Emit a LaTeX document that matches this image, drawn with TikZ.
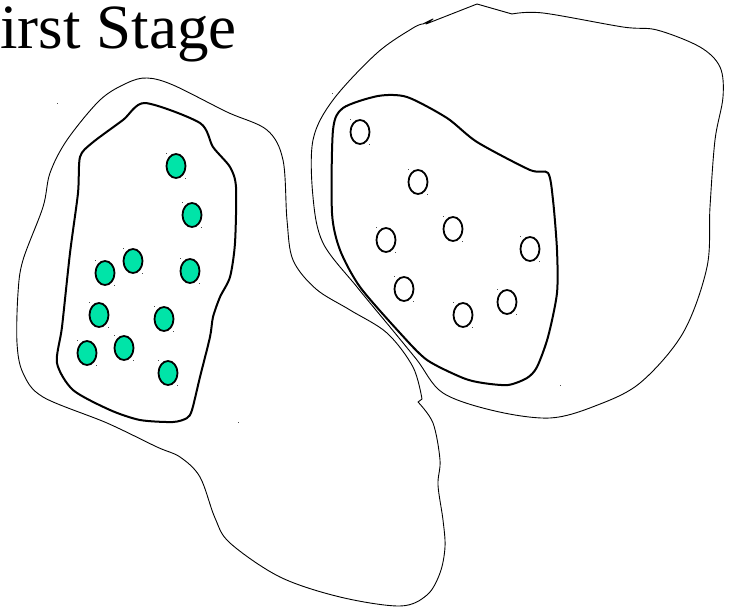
\documentclass[tikz,border=0pt]{standalone}
\usepackage{fontspec}
\setmainfont{Liberation Serif}
\usetikzlibrary{shapes.geometric}
\definecolor{mint}{RGB}{0,228,168}

\begin{document}
\begin{tikzpicture}[x=1pt, y=-1pt,
    G/.style={ellipse, draw=black, fill=mint, line width=1.8pt,
              minimum width=19pt, minimum height=24pt, inner sep=0pt},
    E/.style={G, fill=white},
    rim/.style={draw=black, line width=2pt, line join=round},
    hull/.style={draw=black, line width=0.9pt, line join=round},
    ttl/.style={font=\fontsize{63}{70}\selectfont, inner sep=0pt},
    dot/.style={fill=black!70}]
  \useasboundingbox (0,0) rectangle (729,608);
  \clip (0,0) rectangle (729,608);

  % ---------- title --------------------------------------------------------
  \node[ttl, anchor=base west] (title) at (-35,48) {First Stage};

  % ---------- thin outer hulls ---------------------------------------------
  \draw[hull] plot[smooth, tension=0.55] coordinates {
      (418,402) (433,423) (440,460) (438,485) (443,520) (445,547) (440,573)
      (427,595) (400,606) (340,597) (280,577) (230,543) (215,518) (200,477)
      (180,457) (157,447) (107,423) (43,397) (23,373) (17,343) (18,293)
      (23,260) (43,207) (50,173) (67,140) (100,100) (127,83) (147,78)
      (173,85) (227,112) (267,130) (283,160) (287,220) (293,260) (316,289)
      (350,310) (387,333) (413,367) (422,399)} -- cycle;
  \draw[hull] plot[smooth, tension=0.55] coordinates {
      (512,14) (543,13) (623,27) (657,30) (700,47) (720,67) (723,97)
      (715,140) (710,207) (707,267) (683,333) (640,383) (595,406) (550,418)
      (495,411) (443,393) (417,360) (390,327) (357,287) (323,243) (313,197)
      (313,140) (333,100) (377,53) (413,28) (423,24)}
      -- (433,19) -- (426,24) -- (477,4) -- cycle;

  % ---------- thick inner rims ---------------------------------------------
  \draw[rim] plot[smooth cycle, tension=0.45] coordinates {
      (145,103) (200,123) (213,147) (230,167) (236,187) (235,243) (230,277)
      (220,297) (213,317) (210,337) (200,377) (192,410) (187,418) (173,422)
      (140,420) (110,410) (73,390) (57,363) (62,327) (70,253) (78,193)
      (80,157) (92,143) (123,120)};
  \draw[rim] plot[smooth cycle, tension=0.45] coordinates {
      (378,96) (407,97) (447,118) (477,142) (530,170) (548,173) (553,200)
      (557,250) (557,293) (548,337) (537,367) (527,378) (508,385) (483,383)
      (463,378) (427,360) (400,333) (360,287) (340,250) (332,213) (333,130)
      (343,108)};

  % ---------- filled members -----------------------------------------------
  \foreach \x/\y [count=\k] in {176/166,192/215,133/261,105/273,190/271,
                                99/315,164/319,87/353,124/348,168/373} {
    \node[G] (g\k) at (\x,\y) {};
    \fill[dot] (\x-10,\y-13) rectangle ++(1,1);
    \fill[dot] (\x+9,\y+12) rectangle ++(1,1); }

  % ---------- empty members ------------------------------------------------
  \foreach \x/\y [count=\k] in {360/132,418/182,386/240,453/229,530/249,
                                404/289,463/315,507/302} {
    \node[E] (w\k) at (\x,\y) {};
    \fill[dot] (\x-10,\y-13) rectangle ++(1,1);
    \fill[dot] (\x+9,\y+12) rectangle ++(1,1); }

  % ---------- stray specks -------------------------------------------------
  \foreach \x/\y in {57/103,332/93,238/422,560/385} {
    \fill[dot] (\x,\y) rectangle ++(1,1); }
\end{tikzpicture}
\end{document}
